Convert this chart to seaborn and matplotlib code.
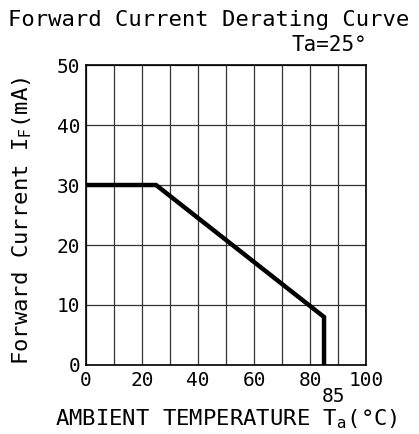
import numpy as np
import pandas as pd
import matplotlib
matplotlib.use('Agg')
import matplotlib.pyplot as plt
import seaborn as sns

# derating curve
temps = [0, 25, 85, 85]
current = [30, 30, 8, 0]
xticks = [0, 20, 40, 60, 80, 100]
yticks = [0, 10, 20, 30, 40, 50]

sns.set_style('white')
plt.rcParams['font.family'] = ['DejaVu Sans Mono', 'DejaVu Sans']
plt.rcParams['text.color'] = 'black'
plt.rcParams['axes.labelcolor'] = 'black'
plt.rcParams['xtick.color'] = 'black'
plt.rcParams['ytick.color'] = 'black'

df = pd.DataFrame({'temp': temps, 'current': current})

fig = plt.figure(figsize=(4.19, 4.34), dpi=100)
ax = fig.add_axes([0.2053, 0.159, 0.6683, 0.6912])

sns.lineplot(data=df, x='temp', y='current', ax=ax, sort=False, estimator=None,
             color='black', linewidth=3.2, solid_joinstyle='miter')

ax.set_xlim(0, 100)
ax.set_ylim(0, 50)
ax.set_xticks(np.arange(0, 101, 10))
ax.set_xticklabels([str(v) if v in xticks else '' for v in range(0, 101, 10)])
ax.set_yticks(yticks)
ax.grid(True, color='#333333', linewidth=0.9)
ax.tick_params(length=0, labelsize=14, pad=4)
for s in ax.spines.values():
    s.set_color('black')
    s.set_linewidth(1.2)

ax.set_xlabel(r'AMBIENT TEMPERATURE T$_\mathrm{a}$(°C)', fontsize=16)
ax.xaxis.set_label_coords(0.5, -0.14)
ax.set_ylabel(r'Forward Current I$_\mathrm{F}$(mA)', fontsize=16)
ax.yaxis.set_label_coords(-0.185, 0.48)

# the 85 mark sits under the row of tick labels
ax.text(88.5, -0.075, '85', transform=ax.get_xaxis_transform(), ha='center', va='top', fontsize=14)
fig.text(0.018, 0.954, 'Forward Current Derating Curve', ha='left', va='center', fontsize=16)
fig.text(0.876, 0.896, 'Ta=25°', ha='right', va='center', fontsize=15)

fig.savefig('out.png', dpi=100)
